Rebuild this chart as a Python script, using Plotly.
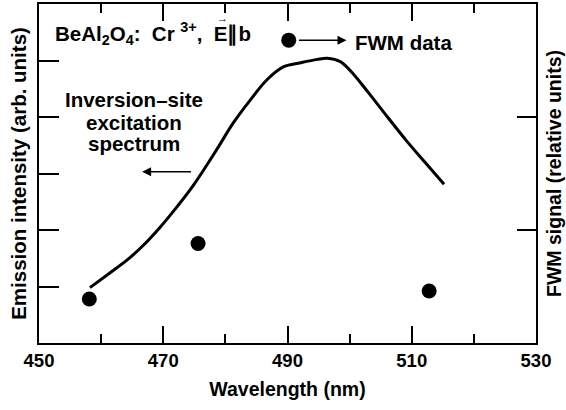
import plotly.graph_objects as go

# Inversion-site excitation spectrum (left axis, arb. units)
wavelength_curve = [458.2, 461.4, 464.2, 466.8, 469.5, 472.2, 474.9, 478.7, 481.3,
                    484.0, 486.7, 489.4, 492.1, 494.8, 496.4, 498.5, 500.2, 502.9,
                    506.1, 509.3, 512.2, 515.2]
intensity_curve = [0.98, 1.24, 1.47, 1.73, 2.05, 2.41, 2.80, 3.44, 3.90,
                   4.30, 4.66, 4.89, 4.96, 5.02, 5.04, 4.98, 4.81, 4.45,
                   4.00, 3.56, 3.19, 2.81]

# Four-wave-mixing data (right axis, relative units)
fwm_wavelength = [458.1, 475.6, 490.2, 512.8]
fwm_signal = [0.39, 0.88, 2.68, 0.46]

x_ticks = [450, 470, 490, 510, 530]
x_tick_text = ["<b>%d</b>" % v for v in x_ticks]
x_minor = [460, 480, 500, 520]

FONT = "Liberation Sans, Arial, Helvetica, sans-serif"
BLACK = "#000000"

fig = go.Figure()
fig.add_trace(go.Scatter(
    x=wavelength_curve, y=intensity_curve, mode="lines",
    line=dict(color=BLACK, width=3, shape="spline", smoothing=1.0),
    xaxis="x", yaxis="y", showlegend=False, hoverinfo="skip"))
fig.add_trace(go.Scatter(
    x=fwm_wavelength, y=fwm_signal, mode="markers",
    marker=dict(color=BLACK, size=15),
    xaxis="x", yaxis="y2", showlegend=False, hoverinfo="skip"))
# invisible trace so the top mirror axis is drawn
fig.add_trace(go.Scatter(x=[450], y=[0], mode="markers", opacity=0,
                         xaxis="x2", yaxis="y", showlegend=False, hoverinfo="skip"))

axis_common = dict(showline=True, linecolor=BLACK, linewidth=2, showgrid=False,
                   zeroline=False, ticks="inside", tickcolor=BLACK, tickwidth=1.5)

fig.update_layout(
    width=566, height=410,
    margin=dict(l=39, r=30, t=4, b=67),
    paper_bgcolor="white", plot_bgcolor="white",
    font=dict(family=FONT, color=BLACK),
    xaxis=dict(range=[450, 530], tickvals=x_ticks, ticktext=x_tick_text, ticklen=17,
               tickfont=dict(size=18.5, weight=700),
               minor=dict(tickvals=x_minor, ticklen=9, ticks="inside",
                          tickcolor=BLACK, tickwidth=1.5),
               title=dict(text="<b>Wavelength (nm)</b>", font=dict(size=19.5), standoff=12),
               **axis_common),
    xaxis2=dict(range=[450, 530], overlaying="x", side="top", tickvals=x_ticks,
                ticklen=17, showticklabels=False,
                minor=dict(tickvals=x_minor, ticklen=9, ticks="inside",
                           tickcolor=BLACK, tickwidth=1.5),
                **axis_common),
    yaxis=dict(range=[0, 6], tickvals=[1, 2, 3, 4, 5], ticklen=20,
               showticklabels=False,
               title=dict(text="<b>Emission intensity (arb. units)</b>",
                          font=dict(size=20.5), standoff=5),
               **axis_common),
    yaxis2=dict(range=[0, 3], overlaying="y", side="right", tickvals=[1, 2],
                ticklen=19, showticklabels=False,
                title=dict(text="<b>FWM signal (relative units)</b>",
                           font=dict(size=19.5), standoff=10),
                **axis_common),
)

ann_font = dict(family=FONT, size=20.5, color=BLACK)

fig.add_annotation(x=452.2, y=5.47, xref="x", yref="y", xanchor="left", yanchor="middle",
                   text="<b>BeAl<sub>2</sub>O<sub>4</sub>:  Cr <sup>3+</sup>,  E\u2225b</b>",
                   showarrow=False, font=ann_font)
# vector arrow over the E
fig.add_annotation(x=479.6, y=5.76, xref="x", yref="y", text="<b>\u2192</b>",
                   showarrow=False, font=dict(family=FONT, size=11, color=BLACK))
fig.add_annotation(x=500.6, y=5.32, xref="x", yref="y", xanchor="left", yanchor="middle",
                   text="<b>FWM data</b>", showarrow=False, font=ann_font)
fig.add_annotation(x=465.3, y=4.31, xref="x", yref="y", text="<b>Inversion\u2013site</b>",
                   showarrow=False, font=ann_font)
fig.add_annotation(x=465.3, y=3.91, xref="x", yref="y", text="<b>excitation</b>",
                   showarrow=False, font=ann_font)
fig.add_annotation(x=465.3, y=3.53, xref="x", yref="y", text="<b>spectrum</b>",
                   showarrow=False, font=ann_font)

# arrows pointing toward the axis each data set belongs to
fig.add_annotation(x=499.5, y=5.36, ax=491.6, ay=5.36, xref="x", yref="y",
                   axref="x", ayref="y", text="", showarrow=True,
                   arrowhead=2, arrowsize=1.2, arrowwidth=1.5, arrowcolor=BLACK)
fig.add_annotation(x=466.6, y=3.03, ax=474.7, ay=3.03, xref="x", yref="y",
                   axref="x", ayref="y", text="", showarrow=True,
                   arrowhead=2, arrowsize=1.2, arrowwidth=1.5, arrowcolor=BLACK)

fig.write_html("out.html")
